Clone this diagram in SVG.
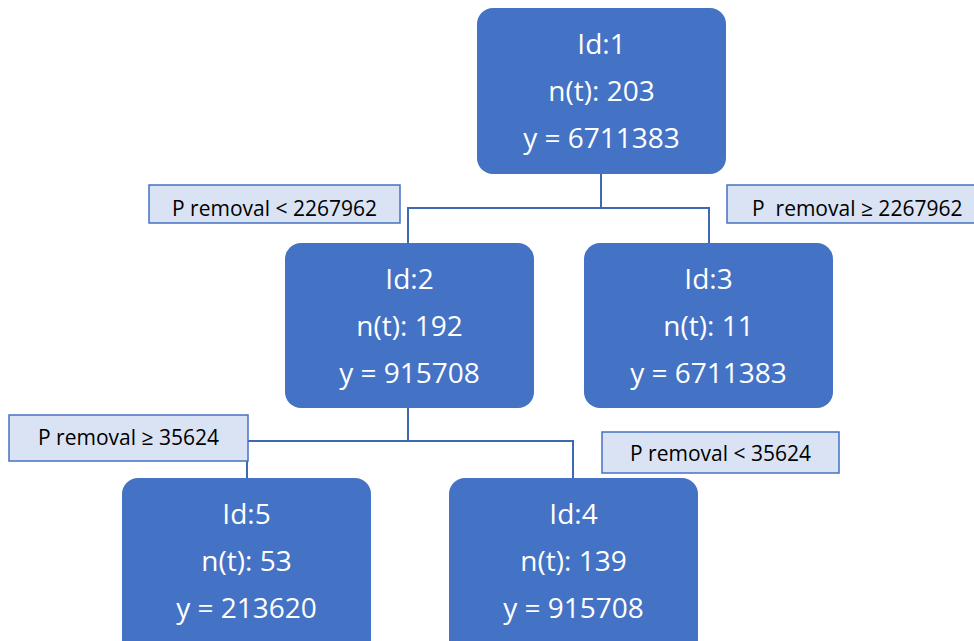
<svg xmlns="http://www.w3.org/2000/svg" width="974" height="641" viewBox="0 0 974 641">
<style>
.node rect{fill:#4472C4;}
.node text{fill:#FFFFFF;font-family:"Open Sans","Liberation Sans",sans-serif;font-size:28px;text-anchor:middle;}
.lbl rect{fill:#DAE3F3;stroke:#4472C4;stroke-width:1.5;}
.lbl text{fill:#000000;font-family:"Open Sans","Liberation Sans",sans-serif;font-size:21px;}
.conn path{fill:none;stroke:#3F68B4;stroke-width:2;}
</style>
<rect width="974" height="641" fill="#FFFFFF"/>
<g class="conn" id="connectors">
<path d="M601,174 V208 M408,243 V208 H709 V243"/>
<path d="M408,408 V441 M247,478 V441 H573 V478"/>
</g>
<g class="node" id="node1">
<rect x="477" y="8" width="249" height="166" rx="16"/>
<text x="601.5" y="54">Id:1</text>
<text x="601.5" y="101">n(t): 203</text>
<text x="601.5" y="148">y = 6711383</text>
</g>
<g class="node" id="node2">
<rect x="285" y="243" width="249" height="165" rx="16"/>
<text x="409.5" y="289">Id:2</text>
<text x="409.5" y="336">n(t): 192</text>
<text x="409.5" y="383">y = 915708</text>
</g>
<g class="node" id="node3">
<rect x="584" y="243" width="249" height="165" rx="16"/>
<text x="708.5" y="289">Id:3</text>
<text x="708.5" y="336">n(t): 11</text>
<text x="708.5" y="383">y = 6711383</text>
</g>
<g class="node" id="node5">
<rect x="122" y="478" width="249" height="180" rx="16"/>
<text x="246.5" y="524">Id:5</text>
<text x="246.5" y="571">n(t): 53</text>
<text x="246.5" y="618">y = 213620</text>
</g>
<g class="node" id="node4">
<rect x="449" y="478" width="249" height="180" rx="16"/>
<text x="573.5" y="524">Id:4</text>
<text x="573.5" y="571">n(t): 139</text>
<text x="573.5" y="618">y = 915708</text>
</g>
<g class="lbl" id="label1">
<rect x="149" y="185" width="251" height="38"/>
<text x="274.5" y="216" text-anchor="middle">P removal &lt; 2267962</text>
</g>
<g class="lbl" id="label2">
<rect x="727" y="185" width="260" height="38"/>
<text x="752" y="216" xml:space="preserve">P  removal ≥ 2267962</text>
</g>
<g class="lbl" id="label3">
<rect x="9" y="415" width="239" height="46"/>
<text x="128.5" y="445" text-anchor="middle">P removal ≥ 35624</text>
</g>
<g class="lbl" id="label4">
<rect x="602" y="432" width="237" height="41"/>
<text x="720.5" y="461" text-anchor="middle">P removal &lt; 35624</text>
</g>
</svg>
